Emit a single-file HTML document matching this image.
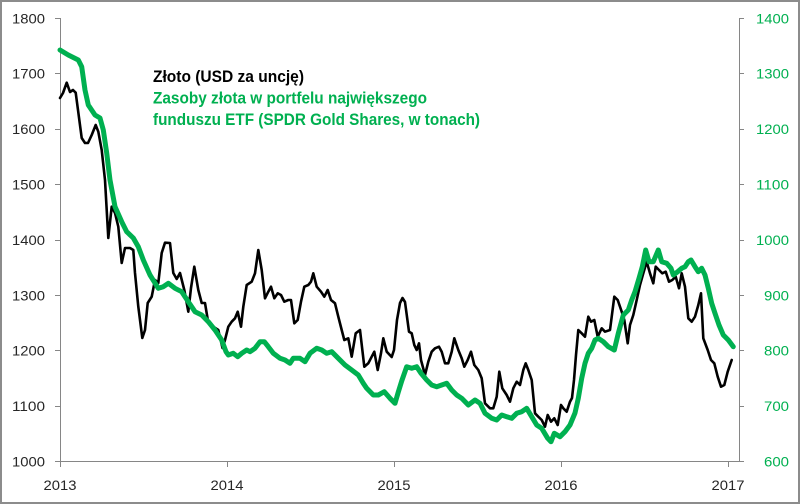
<!DOCTYPE html>
<html>
<head>
<meta charset="utf-8">
<style>
html,body{margin:0;padding:0;background:#fff;}
svg{display:block;}
text{font-family:"Liberation Sans",Arial,sans-serif;}
</style>
</head>
<body>
<svg width="800" height="504" viewBox="0 0 800 504" xmlns="http://www.w3.org/2000/svg">
<rect x="0" y="0" width="800" height="504" fill="#fff"/>
<rect x="1" y="1" width="798" height="502" fill="none" stroke="#8c8c8c" stroke-width="2"/>

<!-- axes -->
<g stroke="#868686" stroke-width="1" fill="none" shape-rendering="crispEdges">
  <line x1="60.5" y1="18" x2="60.5" y2="461"/>
  <line x1="739.5" y1="18" x2="739.5" y2="461"/>
  <line x1="55" y1="461.5" x2="739" y2="461.5"/>
  <!-- left ticks -->
  <line x1="55" y1="18.5" x2="60" y2="18.5"/>
  <line x1="55" y1="73.5" x2="60" y2="73.5"/>
  <line x1="55" y1="129.5" x2="60" y2="129.5"/>
  <line x1="55" y1="184.5" x2="60" y2="184.5"/>
  <line x1="55" y1="240.5" x2="60" y2="240.5"/>
  <line x1="55" y1="295.5" x2="60" y2="295.5"/>
  <line x1="55" y1="350.5" x2="60" y2="350.5"/>
  <line x1="55" y1="406.5" x2="60" y2="406.5"/>
  <!-- right ticks -->
  <line x1="739" y1="18.5" x2="744" y2="18.5"/>
  <line x1="739" y1="73.5" x2="744" y2="73.5"/>
  <line x1="739" y1="129.5" x2="744" y2="129.5"/>
  <line x1="739" y1="184.5" x2="744" y2="184.5"/>
  <line x1="739" y1="240.5" x2="744" y2="240.5"/>
  <line x1="739" y1="295.5" x2="744" y2="295.5"/>
  <line x1="739" y1="350.5" x2="744" y2="350.5"/>
  <line x1="739" y1="406.5" x2="744" y2="406.5"/>
  <line x1="739" y1="461.5" x2="744" y2="461.5"/>
  <!-- bottom ticks -->
  <line x1="60.5" y1="461" x2="60.5" y2="467"/>
  <line x1="227.5" y1="461" x2="227.5" y2="467"/>
  <line x1="394.5" y1="461" x2="394.5" y2="467"/>
  <line x1="561.5" y1="461" x2="561.5" y2="467"/>
  <line x1="728.5" y1="461" x2="728.5" y2="467"/>
</g>

<!-- left labels -->
<g font-size="14" fill="#262626" text-anchor="end">
  <text x="45" y="23.5" textLength="33" lengthAdjust="spacingAndGlyphs">1800</text>
  <text x="45" y="78.5" textLength="33" lengthAdjust="spacingAndGlyphs">1700</text>
  <text x="45" y="134" textLength="33" lengthAdjust="spacingAndGlyphs">1600</text>
  <text x="45" y="189.5" textLength="33" lengthAdjust="spacingAndGlyphs">1500</text>
  <text x="45" y="245" textLength="33" lengthAdjust="spacingAndGlyphs">1400</text>
  <text x="45" y="300.5" textLength="33" lengthAdjust="spacingAndGlyphs">1300</text>
  <text x="45" y="355.5" textLength="33" lengthAdjust="spacingAndGlyphs">1200</text>
  <text x="45" y="411" textLength="33" lengthAdjust="spacingAndGlyphs">1100</text>
  <text x="45" y="466.5" textLength="33" lengthAdjust="spacingAndGlyphs">1000</text>
</g>
<!-- right labels -->
<g font-size="14" fill="#00B050">
  <text x="756" y="23.5" textLength="33" lengthAdjust="spacingAndGlyphs">1400</text>
  <text x="756" y="78.5" textLength="33" lengthAdjust="spacingAndGlyphs">1300</text>
  <text x="756" y="134" textLength="33" lengthAdjust="spacingAndGlyphs">1200</text>
  <text x="756" y="189.5" textLength="33" lengthAdjust="spacingAndGlyphs">1100</text>
  <text x="756" y="245" textLength="33" lengthAdjust="spacingAndGlyphs">1000</text>
  <text x="764" y="300.5" textLength="25" lengthAdjust="spacingAndGlyphs">900</text>
  <text x="764" y="355.5" textLength="25" lengthAdjust="spacingAndGlyphs">800</text>
  <text x="764" y="411" textLength="25" lengthAdjust="spacingAndGlyphs">700</text>
  <text x="764" y="466.5" textLength="25" lengthAdjust="spacingAndGlyphs">600</text>
</g>
<!-- bottom labels -->
<g font-size="14" fill="#262626">
  <text x="43.5" y="490" textLength="33" lengthAdjust="spacingAndGlyphs">2013</text>
  <text x="210.5" y="490" textLength="33" lengthAdjust="spacingAndGlyphs">2014</text>
  <text x="377.5" y="490" textLength="33" lengthAdjust="spacingAndGlyphs">2015</text>
  <text x="544.5" y="490" textLength="33" lengthAdjust="spacingAndGlyphs">2016</text>
  <text x="711.5" y="490" textLength="33" lengthAdjust="spacingAndGlyphs">2017</text>
</g>

<!-- black series: gold price -->
<polyline fill="none" stroke="#000" stroke-width="2.6" stroke-linejoin="round" stroke-linecap="round" points="
60,98 63,93 66.7,82.7 70,92 73,90 75.7,92.7 78,110 81.7,138 85,143 88,143 91.7,135 95.7,125 98.3,131.7
101.7,150 105,180 108.3,238 111.7,206.7 115,213 118.3,226.7 121.7,263 125,248 130,248 133.3,250 135,273
138.3,306.7 142.3,338 145,330 147.7,303 151.7,296.7 155,280 158.3,283 161.7,253 165,242.7 170,243
173.3,273 176.7,279 180,273 184.3,290 188.3,311.7 191,288 194.3,266.7 198.3,290 201.7,303 205,303
208.3,323 213.3,326.7 218.3,330 222.5,348 225,340 228.3,326.7 231.7,321.7 235,318.3 237.7,311.7 241,326.7
243.3,306.7 246.7,285 251.7,281.7 255,273.3 258.3,250 261.7,270 265,298.3 268.3,291.7 271,286.7
274.3,298.3 277.7,293.3 281,295 284.3,301.7 288.3,300 291,300 294.3,323.3 297.7,320 301,301.7
304.3,286.7 308.3,285 311,281.7 313.3,273.3 316.7,286.7 321,291.7 324.3,296.7 327.7,290 331,300
335,303.3 338.3,316.7 341.7,330 344.3,340 348.3,338.3 351.7,356.7 355.7,333.3 360,330 364.3,366.7
368.3,363.3 371.7,356.7 374.3,351.7 377.7,370 381,353.3 383.3,338.3 386.7,351.7 391.7,357 394,350
397,320 400,303 402.5,298 405,302 409,331.7 411.7,333.3 414.3,345 416.7,350 419,343.3 421,360
425,375 428.3,361.7 431.7,351.7 435,348.3 439,346.7 441.7,351.7 445,363.3 448.3,363.3 451.7,351.7
454.3,338.3 458.3,350 461.7,358.3 464.3,366.7 467.7,360 471,351.7 474.3,365 478.3,370 481.7,378.3
485,403.3 490,408.3 493.3,408.3 496.7,396.7 499.3,371.7 502.3,388.3 506.7,395 510,401.7 513.3,388.3
516.7,381.7 520,385 523.3,370 525.7,363.3 528.3,370 531.7,380 535,413.3 538.3,416.7 541.7,420
545,426.7 547.7,415 551,421.7 554.3,418.3 557.7,425 561,405 563.3,408.3 566.7,411.7 570,401.7
572,398 574,380 576,355 578.3,330 581.7,333.3 585,336.7 588.3,316.7 591,321.7 594.3,320 597.7,336.7
601.7,328.3 605,331.7 610,330 614.3,296.7 617.7,300 621.7,311.7 624.3,320 627.7,343.3 630,325
633.3,315 636.7,300 640,285 643.3,273.3 646.7,261.7 650,273.3 653.3,283.3 655.7,266.7 659,270
662.3,273.3 665.7,271.7 669,281.7 672.3,280 675.7,276.7 679,288.3 681.7,273.3 685,286.7 688.3,318.3
691.7,321.7 695,316.7 698.3,305 701,293.3 703.3,338.3 707.7,350 711,360 714.3,363.3 717.7,376.7
721,386.7 724.3,385 727.7,371.7 731.7,360"/>

<!-- green series: ETF holdings -->
<polyline fill="none" stroke="#00B050" stroke-width="5" stroke-linejoin="round" stroke-linecap="round" points="
60,50 68.3,55 78.3,60 81.7,66.7 85,90 88.3,105 95,115 100,118 103.3,130 106.7,153 110,180 115,206.7
121.7,221.7 126.7,231.7 133.3,238 138.3,246.7 143.3,260 150,275 158.3,288.3 163.3,286.7 168.3,283.3
175,288.3 181.7,291.7 188.3,301.7 195,311.7 201.7,315 208.3,321.7 215,330 221.7,340 226,351.7
228.3,355 233.3,353.3 237.7,356.7 241.7,353.3 246.7,350 250,351.7 255,348.3 260,341.7 264.3,341.7
268.3,346.7 273.3,353.3 280,358.3 285,360 290,363.3 293.3,358.3 300,358.3 305,361.7 310,353.3
316.7,348.3 321.7,350 326.7,353.3 331.7,351.7 338.3,358.3 345,365 351.7,370 358.3,375 363.3,383.3
366.7,388.3 373.3,395 378.3,395 384.3,391.7 390,398.3 395,403.3 398.3,392 401.7,381 406.7,366.7
411.7,368.3 416.7,366.7 421,373.3 426.7,380 431.7,385 436.7,386.7 441.7,385 446.7,383.3 451.7,390
456.7,395 461.7,398.3 468.3,405 475,400 480,403.3 485,413.3 491.7,418.3 496.7,420 501.7,415
506.7,416.7 511.7,418.3 516.7,413.3 521.7,411.7 526.7,408.3 531.7,416.7 536.7,425 541.7,428.3
547.7,438.3 551,441.7 554.3,433.3 560,436.7 565,431.7 570,425 575,413 578.3,398.3 581.7,378.3
585,363.3 588.3,353.3 591.7,348.3 595,340 598.3,338.3 603.3,341.7 608.3,346.7 614.3,350 618.3,333.3
623.3,315 628.3,310 631.7,300 635,291.7 639,278.3 642.3,266.7 645.7,250 649,261.7 653.3,261.7
658.3,250 661.7,261.7 666.7,263.3 671,268.3 673.3,275 677.7,271.7 681.7,268.3 685,266.7 688.3,261.7
691,260 695,266.7 698.3,271.7 701.7,268.3 705,275 708.3,288.3 711.7,303.3 715,313.3 719,325
723.3,335 728.3,340 733.3,346.7"/>

<!-- legend text -->
<g font-size="17" font-weight="bold">
  <text x="153" y="82" fill="#000" textLength="151" lengthAdjust="spacingAndGlyphs">Złoto (USD za uncję)</text>
  <text x="153" y="103.5" fill="#00B050" textLength="274" lengthAdjust="spacingAndGlyphs">Zasoby złota w portfelu największego</text>
  <text x="153" y="125" fill="#00B050" textLength="327" lengthAdjust="spacingAndGlyphs">funduszu  ETF (SPDR Gold Shares, w tonach)</text>
</g>
</svg>
</body>
</html>
